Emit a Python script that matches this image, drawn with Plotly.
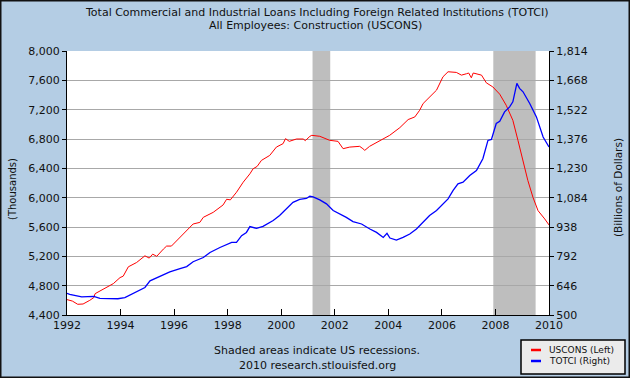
import plotly.graph_objects as go

# ---- data ----
uscons_year = [1992.0, 1992.2, 1992.4, 1992.6, 1992.85, 1993.0, 1993.05, 1993.35, 1993.73, 1993.98,
               1994.1, 1994.29, 1994.6, 1994.91, 1995.07, 1995.2, 1995.35, 1995.6, 1995.72, 1995.9,
               1996.09, 1996.34, 1996.71, 1996.96, 1997.09, 1997.46, 1997.83, 1997.96, 1998.1, 1998.33,
               1998.58, 1998.83, 1998.95, 1999.1, 1999.26, 1999.57, 1999.82, 2000.07, 2000.16, 2000.3,
               2000.57, 2000.82, 2000.9, 2001.07, 2001.14, 2001.44, 2001.81, 2002.12, 2002.31, 2002.56,
               2002.93, 2003.05, 2003.12, 2003.3, 2003.68, 2004.05, 2004.43, 2004.74, 2004.99, 2005.17,
               2005.3, 2005.61, 2005.8, 2006.04, 2006.23, 2006.54, 2006.73, 2006.92, 2007.0, 2007.1,
               2007.17, 2007.48, 2007.66, 2007.9, 2008.16, 2008.4, 2008.65, 2008.84, 2009.03, 2009.21,
               2009.4, 2009.59, 2009.84, 2010.0]
uscons = [4610, 4590, 4546, 4550, 4600, 4637, 4691, 4751, 4828, 4910,
          4930, 5057, 5116, 5207, 5176, 5230, 5200, 5299, 5340, 5340,
          5413, 5504, 5641, 5663, 5732, 5800, 5901, 5978, 5970, 6074,
          6211, 6325, 6394, 6426, 6508, 6576, 6690, 6737, 6805, 6768,
          6800, 6800, 6778, 6836, 6850, 6837, 6782, 6768, 6668, 6690,
          6700, 6668, 6645, 6700, 6782, 6850, 6955, 7065, 7101, 7192,
          7284, 7398, 7466, 7648, 7717, 7708, 7671, 7690, 7700, 7635,
          7700, 7671, 7566, 7511, 7411, 7261, 7055, 6782, 6508, 6234,
          6006, 5823, 5710, 5628]

totci_year = [1992.0, 1992.1, 1992.55, 1993.0, 1993.23, 1993.73, 1993.9, 1994.16, 1994.35, 1994.6,
              1994.91, 1995.1, 1995.35, 1995.6, 1995.84, 1996.22, 1996.47, 1996.71, 1997.09, 1997.34,
              1997.71, 1998.15, 1998.33, 1998.52, 1998.7, 1998.83, 1999.08, 1999.32, 1999.7, 1999.94,
              2000.19, 2000.44, 2000.69, 2000.94, 2001.07, 2001.19, 2001.44, 2001.69, 2001.94, 2002.19,
              2002.43, 2002.68, 2003.0, 2003.31, 2003.56, 2003.81, 2003.95, 2004.06, 2004.3, 2004.55,
              2004.8, 2005.05, 2005.3, 2005.54, 2005.8, 2006.04, 2006.23, 2006.42, 2006.6, 2006.79,
              2007.04, 2007.29, 2007.53, 2007.72, 2007.85, 2008.03, 2008.16, 2008.34, 2008.53, 2008.65,
              2008.72, 2008.8, 2008.9, 2009.03, 2009.28, 2009.53, 2009.78, 2010.0]
totci = [608, 603, 590, 593, 583, 583, 581, 587, 600, 620,
         637, 670, 686, 703, 715, 731, 741, 765, 786, 811,
         836, 861, 861, 895, 911, 940, 931, 941, 970, 995,
         1028, 1061, 1075, 1080, 1091, 1088, 1073, 1053, 1020, 1003,
         986, 965, 953, 928, 911, 886, 906, 883, 873, 886,
         903, 928, 965, 995, 1020, 1050, 1078, 1120, 1153, 1161,
         1194, 1219, 1278, 1369, 1374, 1453, 1464, 1511, 1536, 1561,
         1603, 1653, 1628, 1611, 1553, 1486, 1386, 1336]

recession_starts = [2001.17, 2007.92]
recession_ends = [2001.83, 2009.5]

x_ticks = list(range(1992, 2011, 2))
left_ticks = [4400, 4800, 5200, 5600, 6000, 6400, 6800, 7200, 7600, 8000]
right_ticks = [500, 646, 792, 938, 1084, 1230, 1376, 1522, 1668, 1814]

title_lines = ["Total Commercial and Industrial Loans Including Foreign Related Institutions (TOTCI)",
               "All Employees: Construction (USCONS)"]

# ---- figure ----
W, H = 630, 378
L, R, T, B = 67, 81, 51, 63
pw, ph = W - L - R, H - T - B


def px(x):
    return (x - L) / pw


def py(y):
    return (H - B - y) / ph


BG = "#B4CDE4"
TF = "DejaVu Sans"

fig = go.Figure()
fig.add_trace(go.Scatter(x=uscons_year, y=uscons, mode="lines", name="USCONS (Left)",
                         line=dict(color="#FF0000", width=1), yaxis="y", hoverinfo="skip"))
fig.add_trace(go.Scatter(x=totci_year, y=totci, mode="lines", name="TOTCI (Right)",
                         line=dict(color="#0000FF", width=1.3), yaxis="y2", hoverinfo="skip"))

shapes = []
for s, e in zip(recession_starts, recession_ends):
    shapes.append(dict(type="rect", xref="x", yref="paper", x0=s, x1=e, y0=0, y1=1,
                       fillcolor="#BEBEBE", line=dict(width=0), layer="between"))
# outer border
shapes.append(dict(type="rect", xref="paper", yref="paper", x0=px(0), x1=px(W), y0=py(H), y1=py(0),
                   line=dict(color="#111111", width=3), fillcolor="rgba(0,0,0,0)"))
# legend box
shapes.append(dict(type="rect", xref="paper", yref="paper", x0=px(521), x1=px(625), y0=py(374), y1=py(340),
                   line=dict(color="#000000", width=1.5), fillcolor="#EBEBEB"))
shapes.append(dict(type="line", xref="paper", yref="paper", x0=px(531), x1=px(541), y0=py(350), y1=py(350),
                   line=dict(color="#FF0000", width=2.5)))
shapes.append(dict(type="line", xref="paper", yref="paper", x0=px(531), x1=px(541), y0=py(361), y1=py(361),
                   line=dict(color="#0000FF", width=2.5)))

annotations = [
    dict(text=title_lines[0], x=px(317), y=py(13), xref="paper", yref="paper", showarrow=False,
         xanchor="center", yanchor="middle", font=dict(family=TF, size=11, color="#111")),
    dict(text=title_lines[1], x=px(315), y=py(25), xref="paper", yref="paper", showarrow=False,
         xanchor="center", yanchor="middle", font=dict(family=TF, size=11, color="#111")),
    dict(text="Shaded areas indicate US recessions.", x=px(317), y=py(351), xref="paper", yref="paper",
         showarrow=False, xanchor="center", yanchor="middle", font=dict(family=TF, size=11, color="#111")),
    dict(text="2010 research.stlouisfed.org", x=px(317), y=py(365), xref="paper", yref="paper",
         showarrow=False, xanchor="center", yanchor="middle", font=dict(family=TF, size=11, color="#111")),
    dict(text="(Thousands)", x=px(12), y=py(189), xref="paper", yref="paper", showarrow=False,
         textangle=-90, xanchor="center", yanchor="middle", font=dict(family=TF, size=10, color="#111")),
    dict(text="(Billions of Dollars)", x=px(618), y=py(188), xref="paper", yref="paper", showarrow=False,
         textangle=-90, xanchor="center", yanchor="middle", font=dict(family=TF, size=10.5, color="#111")),
    dict(text="USCONS (Left)", x=px(547), y=py(350), xref="paper", yref="paper", showarrow=False,
         xanchor="left", yanchor="middle", font=dict(family=TF, size=9, color="#111")),
    dict(text="TOTCI (Right)", x=px(547), y=py(361), xref="paper", yref="paper", showarrow=False,
         xanchor="left", yanchor="middle", font=dict(family=TF, size=9, color="#111")),
]

fig.update_layout(
    width=W, height=H,
    margin=dict(l=L, r=R, t=T, b=B, pad=0),
    paper_bgcolor=BG, plot_bgcolor="#FFFFFF",
    showlegend=False, hovermode=False,
    shapes=shapes, annotations=annotations,
    xaxis=dict(range=[1992, 2010], tickvals=x_ticks, ticktext=[str(v) for v in x_ticks],
               ticks="inside", ticklen=6, tickcolor="#000", showgrid=False, zeroline=False,
               showline=True, linecolor="#000", linewidth=1,
               tickfont=dict(family=TF, size=11, color="#111")),
    yaxis=dict(range=[4400, 8000], tickvals=left_ticks, tickformat=",d", ticks="outside", ticklen=4,
               tickcolor="#000", showgrid=True, gridcolor="#A8A8A8", gridwidth=1, zeroline=False,
               showline=True, linecolor="#000", linewidth=1,
               tickfont=dict(family=TF, size=11, color="#111")),
    yaxis2=dict(range=[500, 1814], tickvals=right_ticks, tickformat=",d", overlaying="y", side="right",
                ticks="outside", ticklen=4, tickcolor="#000", showgrid=False, zeroline=False,
                showline=True, linecolor="#000", linewidth=1,
                tickfont=dict(family=TF, size=11, color="#111")),
)

fig.write_html("out.html", config={"displayModeBar": False, "staticPlot": True},
               post_script="document.body.style.margin='0';document.body.style.overflow='hidden';")
